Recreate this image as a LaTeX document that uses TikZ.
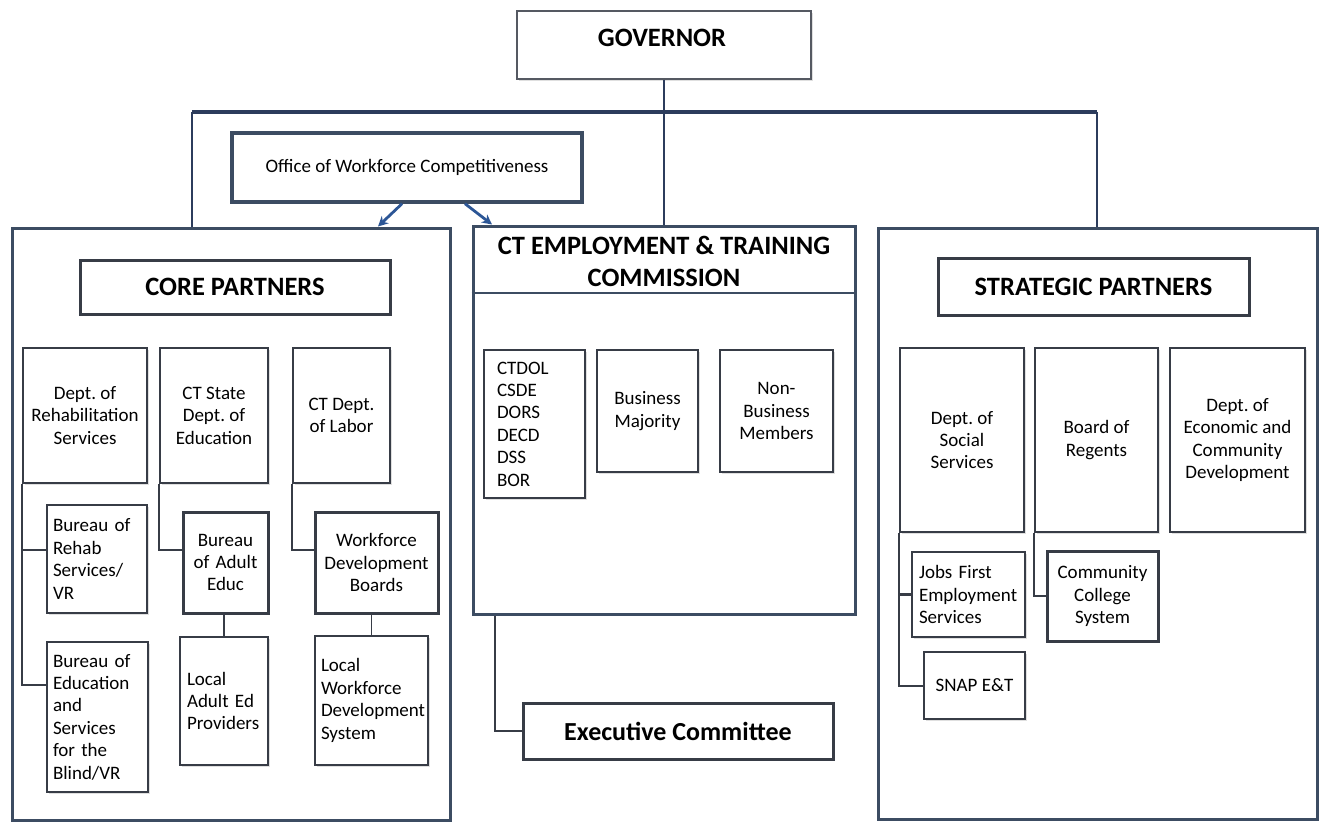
\documentclass[tikz,border=0pt]{standalone}
\usepackage{fontspec}
\setmainfont{Carlito}
\usetikzlibrary{arrows.meta,shadows}

\definecolor{edge}{RGB}{55,60,70}
\definecolor{frame}{RGB}{60,76,98}
\definecolor{wire}{RGB}{44,60,92}
\definecolor{arrowblue}{RGB}{44,86,150}

\newcommand\bodyfs{\fontsize{19}{22.4}\selectfont}
\newcommand\titlefs{\fontsize{26.5}{32}\selectfont\bfseries}
\newcommand\execfs{\fontsize{26}{30}\selectfont\bfseries}

\tikzset{
  box/.style={draw=edge, line width=2.2pt, fill=white, inner sep=0pt,
    font=\bodyfs, align=center,
    drop shadow={shadow xshift=1.8pt, shadow yshift=-1.8pt, opacity=.25, fill=gray}},
  heavybox/.style={box, line width=3pt},
  outerbox/.style={box, draw=frame, line width=3pt, fill=white},
  titlebox/.style={heavybox, font=\titlefs},
  link/.style={draw=edge, line width=2.8pt},
  thinwire/.style={draw=wire, line width=1.6pt},
  barwire/.style={draw=wire, line width=3.2pt},
  officearrow/.style={draw=arrowblue, line width=2.8pt,
    -{Stealth[length=10pt,width=10pt]}},
}

% box from its corners (x1,y1)-(x2,y2), text centred
\newcommand\orgbox[7][]{%
  \pgfmathsetmacro\obw{#5-#3}%
  \pgfmathsetmacro\obh{#6-#4}%
  \pgfmathsetmacro\ocx{(#3+#5)/2}%
  \pgfmathsetmacro\ocy{(#4+#6)/2}%
  \node[box,minimum width=\obw pt,minimum height=\obh pt,#1] (#2) at (\ocx,\ocy) {#7};}

% box from its corners, text set flush left with a given inset
\newcommand\leftbox[8][]{%
  \pgfmathsetmacro\obw{#5-#3}%
  \pgfmathsetmacro\obh{#6-#4}%
  \pgfmathsetmacro\ocx{(#3+#5)/2}%
  \pgfmathsetmacro\ocy{(#4+#6)/2}%
  \pgfmathsetmacro\otw{#5-#3-2*#7}%
  \node[box,minimum width=\obw pt,minimum height=\obh pt,text width=\otw pt,align=left,#1] (#2) at (\ocx,\ocy) {#8};}

\begin{document}
\begin{tikzpicture}[x=1pt,y=-1pt]
\useasboundingbox[fill=white] (0,0) rectangle (1325,822);

% ---- top level ----
\orgbox[draw=edge!85, line width=1.8pt]{gov}{517}{11}{811}{79}{}
\node[font=\titlefs] (govlabel) at (662,38) {GOVERNOR};

\coordinate (barL) at (192,112);
\coordinate (barR) at (1097,112);

% ---- the three groups ----
\orgbox[outerbox]{core}{12}{228}{450}{820}{}
\orgbox[outerbox]{ct}{473}{226}{855}{614}{}
\orgbox[outerbox]{strat}{878}{228}{1317}{819}{}

\orgbox[heavybox, draw=frame, line width=3.4pt]{office}{232}{133}{582}{202}{Office of Workforce Competitiveness}

% governor links
\draw[barwire] (barL) -- (barR);
\draw[thinwire] (core.north -| barL) -- (barL);
\draw[thinwire] (barR) -- (strat.north -| barR);
\draw[thinwire] (gov.south) -- (ct.north);

% office arrows
\draw[officearrow] ([xshift=-5pt]office.south) -- (core.north -| 378,0);
\draw[officearrow] ([xshift=58pt]office.south) -- (ct.north -| 492,0);

% ---- core partners ----
\orgbox[titlebox]{coretitle}{80}{260}{390}{314}{CORE PARTNERS}

\orgbox{rehab}{23}{348}{147}{483}{Dept.\ of\\Rehabilitation\\Services}
\orgbox{stateed}{160}{348}{268}{483}{CT State\\Dept.\ of\\Education}
\orgbox{labor}{293}{348}{390}{483}{CT Dept.\\of Labor}

\leftbox{burehab}{47}{505}{147}{613}{6}{Bureau of\\Rehab\\Services/\\VR}
\leftbox{bueduc}{47}{642}{148}{792}{6}{Bureau of\\Education\\and\\Services\\for the\\Blind/VR}
\leftbox[heavybox]{buadult}{183}{512}{268}{613}{9}{Bureau\\of Adult\\Educ}
\leftbox{localad}{180}{637}{268}{765}{7}{Local\\Adult Ed\\Providers}
\leftbox[heavybox]{wdb}{315}{512}{438}{613}{9}{Workforce\\Development\\Boards}
\leftbox{lwds}{315}{636}{428}{765}{6}{Local\\Workforce\\Development\\System}

\draw[link, line width=2pt] (rehab.south west) |- (bueduc.west |- 0,685);
\draw[link] (rehab.west |- 0,550) -- (burehab.west |- 0,550);
\draw[link] (stateed.south west) |- (buadult.west |- 0,550);
\draw[link] (labor.south west) |- (wdb.west |- 0,550);
\draw[link, line width=1.8pt] (localad.north |- buadult.south) -- (localad.north);
\draw[link, line width=1.8pt] (lwds.north |- wdb.south) -- (lwds.north);

% ---- commission ----
\node[font=\titlefs, align=center] (cttitle) at (664,261) {CT EMPLOYMENT \& TRAINING\\COMMISSION};
\draw[draw=frame, line width=1.4pt] (ct.west |- 0,293) -- (ct.east |- 0,293);

\leftbox{members}{484}{350}{585}{498}{13}{CTDOL\\CSDE\\DORS\\DECD\\DSS\\BOR}
\orgbox[line width=1.8pt]{business}{597}{350}{698}{472}{Business\\Majority}
\orgbox[line width=1.8pt]{nonbus}{720}{350}{833}{472}{Non-\\Business\\Members}

\orgbox[heavybox, font=\execfs]{exec}{523}{703}{833}{759}{Executive Committee}
\draw[link] (ct.south -| 495,0) |- (exec.west);

% ---- strategic partners ----
\orgbox[titlebox]{strattitle}{938}{258}{1249}{315}{STRATEGIC PARTNERS}

\orgbox[line width=1.8pt]{dss}{900}{348}{1024}{532}{Dept.\ of\\Social\\Services}
\orgbox{bor}{1035}{348}{1158}{532}{Board of\\Regents}
\orgbox{decd}{1170}{348}{1305}{532}{Dept.\ of\\Economic and\\Community\\Development}

\leftbox{jobs}{912}{552}{1025}{637}{7}{Jobs First\\Employment\\Services}
\orgbox{snap}{924}{652}{1025}{719}{SNAP E\&T}
\leftbox[heavybox]{cc}{1047}{551}{1158}{641}{7}{Community\\College\\System}

\draw[link, line width=2pt] (dss.south west) |- (snap.west);
\draw[link] (dss.west |- jobs.west) -- (jobs.west);
\draw[link] (bor.south west) |- (cc.west);
\end{tikzpicture}
\end{document}
